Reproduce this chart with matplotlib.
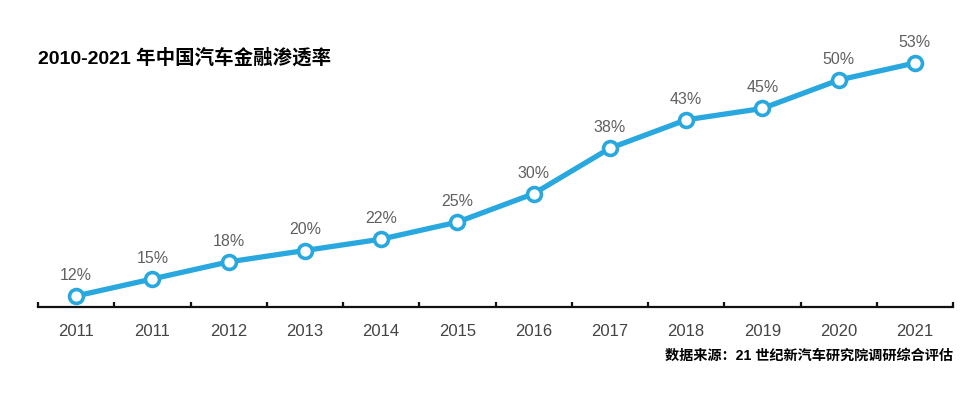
import matplotlib
matplotlib.use("Agg")
import matplotlib.pyplot as plt

plt.rcParams['font.family'] = ['Liberation Sans', 'Noto Sans CJK SC', 'DejaVu Sans']

years = ["2011", "2011", "2012", "2013", "2014", "2015", "2016", "2017", "2018", "2019", "2020", "2021"]
rates = [12, 15, 18, 20, 22, 25, 30, 38, 43, 45, 50, 53]
title = "2010-2021 年中国汽车金融渗透率"
source = "数据来源：21 世纪新汽车研究院调研综合评估"

color = "#29A8E0"
W, H = 980, 393
fig = plt.figure(figsize=(W/100, H/100), dpi=100)
ax = fig.add_axes([38/W, 1-307/H, (953-38)/W, (307-40)/H])

x = list(range(len(years)))
ax.plot(x, rates, color=color, lw=3.8, marker='o', ms=10, mfc='white', mec=color, mew=2.6,
        solid_capstyle='round', zorder=3)
for xi, v in zip(x, rates):
    ax.annotate(f"{v}%", (xi, v), xytext=(0, 9.5), textcoords='offset points',
                ha='center', va='bottom', fontsize=11.5, color='#606060')

ax.set_xlim(-0.5, len(years)-0.5)
ax.set_ylim(10.06, 57.05)
for s in ['top', 'right', 'left']:
    ax.spines[s].set_visible(False)
ax.spines['bottom'].set_linewidth(1.6)
ax.spines['bottom'].set_color('#111111')
ax.set_yticks([])
ax.set_xticks(x)
ax.set_xticklabels(years, fontsize=12, color='#444444')
ax.tick_params(axis='x', length=0, pad=12)
for b in [i - 0.5 for i in range(len(years)+1)]:
    ax.plot([b, b], [10.06, 10.06 + 5/5.68], color='#111111', lw=1.6, clip_on=False,
            solid_capstyle='butt')

fig.text(38/W, 1-58/H, title, fontsize=14, fontweight='bold', ha='left', va='center',
         family=['Liberation Sans', 'Noto Sans CJK SC'])
fig.text(953/W, 1-356/H, source, fontsize=10.2, fontweight='bold', ha='right', va='center',
         family=['Liberation Sans', 'Noto Sans CJK SC'])

fig.savefig("out.png", dpi=100, facecolor='white')
